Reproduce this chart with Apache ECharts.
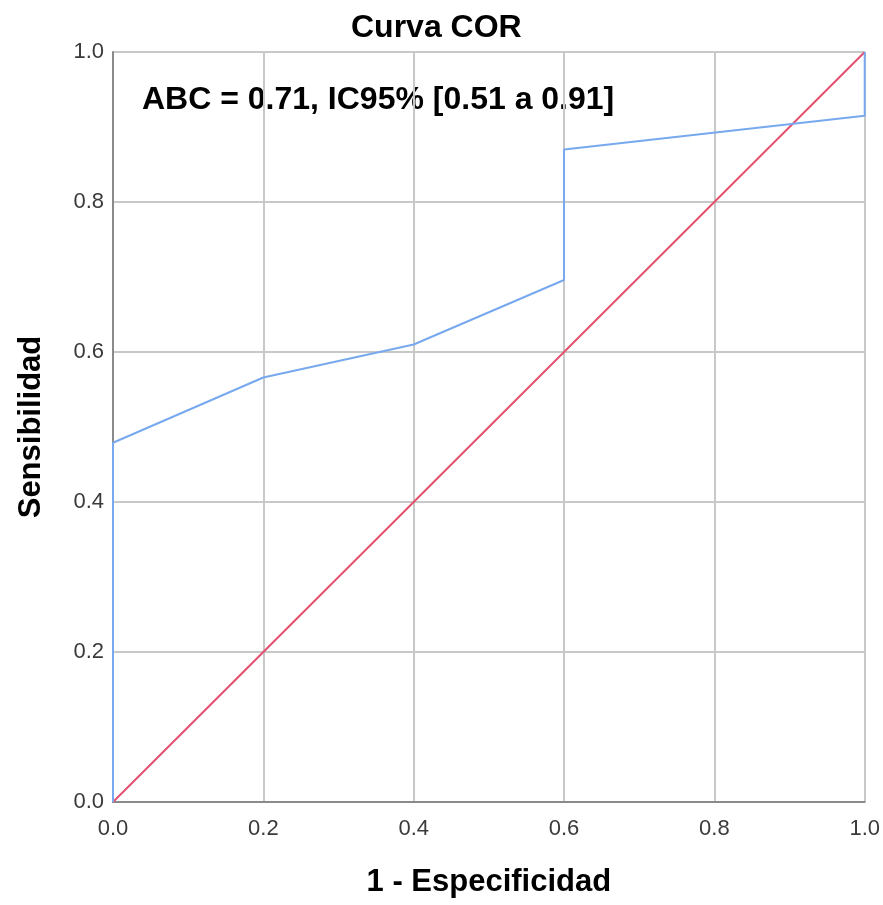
<!DOCTYPE html>
<html>
<head>
<meta charset="utf-8">
<script src="https://cdn.jsdelivr.net/npm/echarts@6/dist/echarts.min.js"></script>
<style>
  html, body { margin: 0; padding: 0; background: #fff; }
  #chart { width: 883px; height: 905px; }
</style>
</head>
<body>
<div id="chart"></div>
<script>
// curva COR: 1 - especificidad vs sensibilidad
const fpr = [0, 0, 0.2, 0.4, 0.6, 0.6, 1.0, 1.0];
const tpr = [0, 0.479, 0.566, 0.610, 0.696, 0.870, 0.915, 1.0];
const refX = [0, 1];
const refY = [0, 1];
const ticks = [0, 0.2, 0.4, 0.6, 0.8, 1.0];
const annotation = 'ABC = 0.71, IC95% [0.51 a 0.91]';

const font = '"Liberation Sans", Arial, sans-serif';
const chart = echarts.init(document.getElementById('chart'), null, { renderer: 'canvas' });

const axisCommon = {
  type: 'value',
  min: ticks[0],
  max: ticks[ticks.length - 1],
  interval: 0.2,
  nameLocation: 'middle',
  nameTextStyle: { fontFamily: font, fontSize: 31, fontWeight: 'bold', color: '#000' },
  axisLine: { show: true, lineStyle: { color: '#8a8a8a', width: 2 } },
  axisTick: { show: false },
  splitLine: { show: true, lineStyle: { color: '#c8c8c8', width: 2 } },
  axisLabel: {
    fontFamily: font,
    fontSize: 22,
    color: '#3a3a3a',
    formatter: (v) => v.toFixed(1),
  },
};

const option = {
  animation: false,
  backgroundColor: '#fff',
  title: {
    text: 'Curva COR',
    left: 346,
    top: 7,
    textStyle: { fontFamily: font, fontSize: 32, fontWeight: 'bold', color: '#000' },
  },
  grid: { left: 113, top: 52, right: 17, bottom: 103, containLabel: false },
  xAxis: Object.assign({}, axisCommon, {
    name: '1 - Especificidad',
    nameGap: 65,
    axisLabel: Object.assign({}, axisCommon.axisLabel, { margin: 16 }),
  }),
  yAxis: Object.assign({}, axisCommon, {
    name: 'Sensibilidad',
    nameGap: 66,
    axisLabel: Object.assign({}, axisCommon.axisLabel, { margin: 9 }),
  }),
  graphic: [
    {
      type: 'text',
      left: 142,
      top: 84,
      style: {
        text: annotation,
        font: 'bold 32px ' + font,
        fill: '#000',
      },
    },
  ],
  series: [
    {
      type: 'line',
      data: refX.map((x, i) => [x, refY[i]]),
      symbol: 'none',
      lineStyle: { color: '#e4506e', width: 2 },
      z: 3,
    },
    {
      type: 'line',
      data: fpr.map((x, i) => [x, tpr[i]]),
      symbol: 'none',
      lineStyle: { color: '#78a9ee', width: 2 },
      z: 4,
    },
  ],
};

chart.setOption(option);
</script>
</body>
</html>
